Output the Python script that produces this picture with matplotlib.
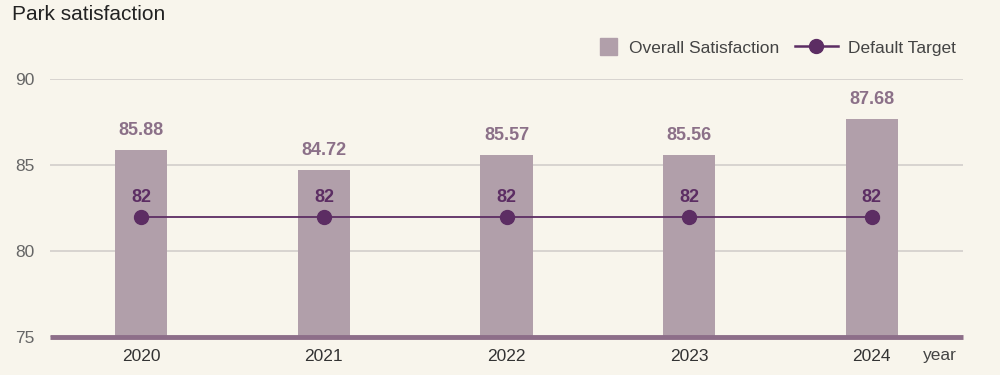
import numpy as np
import matplotlib
matplotlib.use("Agg")
from matplotlib import pyplot as plt
from matplotlib.lines import Line2D
from matplotlib.patches import Patch, Rectangle
from matplotlib.legend_handler import HandlerPatch

years = ["2020", "2021", "2022", "2023", "2024"]
satisfaction = [85.88, 84.72, 85.57, 85.56, 87.68]
target = [82, 82, 82, 82, 82]
y_ticks = [75, 80, 85, 90]

BG = "#f8f5ec"
BAR = "#b19faa"
LINE = "#5c2d63"
VALUE = "#8b7088"

plt.rcParams["font.family"] = ["Liberation Sans", "DejaVu Sans"]


def square_patch(legend, orig_handle, xdescent, ydescent, width, height, fontsize):
    side = 12
    return Rectangle((-xdescent + width - side - 1, -ydescent + (height - side) / 2), side, side)


fig = plt.figure(figsize=(10, 3.75), dpi=100, facecolor=BG)
ax = fig.add_axes([0.05, 0.1013, 0.913, 0.688], facecolor=BG)

x = np.arange(len(years))
ax.bar(x, [v - 75 for v in satisfaction], bottom=75, width=0.285, color=BAR, zorder=2)
ax.plot(x, target, color=LINE, lw=1.3, marker="o", ms=10, zorder=3)

for xi, v in zip(x, satisfaction):
    ax.annotate(f"{v:.2f}", (xi, v), xytext=(0, 8), textcoords="offset points",
                ha="center", va="bottom", color=VALUE, fontsize=13, fontweight="bold")
for xi, t in zip(x, target):
    ax.annotate(f"{t}", (xi, t), xytext=(0, 7.5), textcoords="offset points",
                ha="center", va="bottom", color=LINE, fontsize=13, fontweight="bold")

ax.set_xlim(-0.5, len(years) - 0.5)
ax.set_ylim(75, 90)
ax.set_yticks(y_ticks)
ax.set_xticks(x)
ax.set_xticklabels(years)
ax.tick_params(axis="both", length=0, labelsize=12.5, labelcolor="#666666")
ax.tick_params(axis="x", pad=8.5, labelcolor="#333333")
ax.tick_params(axis="y", pad=11)
ax.grid(axis="y", color="#d2cecb", lw=1.2, zorder=0)
ax.axhline(75, color="#8d6e89", lw=3.5, zorder=4, solid_capstyle="butt", clip_on=False)
for s in ax.spines.values():
    s.set_visible(False)

fig.text(0.012, 0.96, "Park satisfaction", fontsize=15, color="#222222", va="center")
fig.text(0.94, 0.052, "year", fontsize=12.5, color="#444444", ha="center", va="center")

handles = [Patch(color=BAR), Line2D([], [], color=LINE, lw=1.8, marker="o", ms=10)]
fig.legend(handles, ["Overall Satisfaction", "Default Target"], loc="center right",
           bbox_to_anchor=(0.972, 0.872), ncol=2, frameon=False, fontsize=12.5,
           handlelength=2.5, columnspacing=0.9, handletextpad=0.6,
           labelcolor="#444444", handler_map={Patch: HandlerPatch(patch_func=square_patch)})

fig.savefig("out.png", dpi=100, facecolor=BG)
